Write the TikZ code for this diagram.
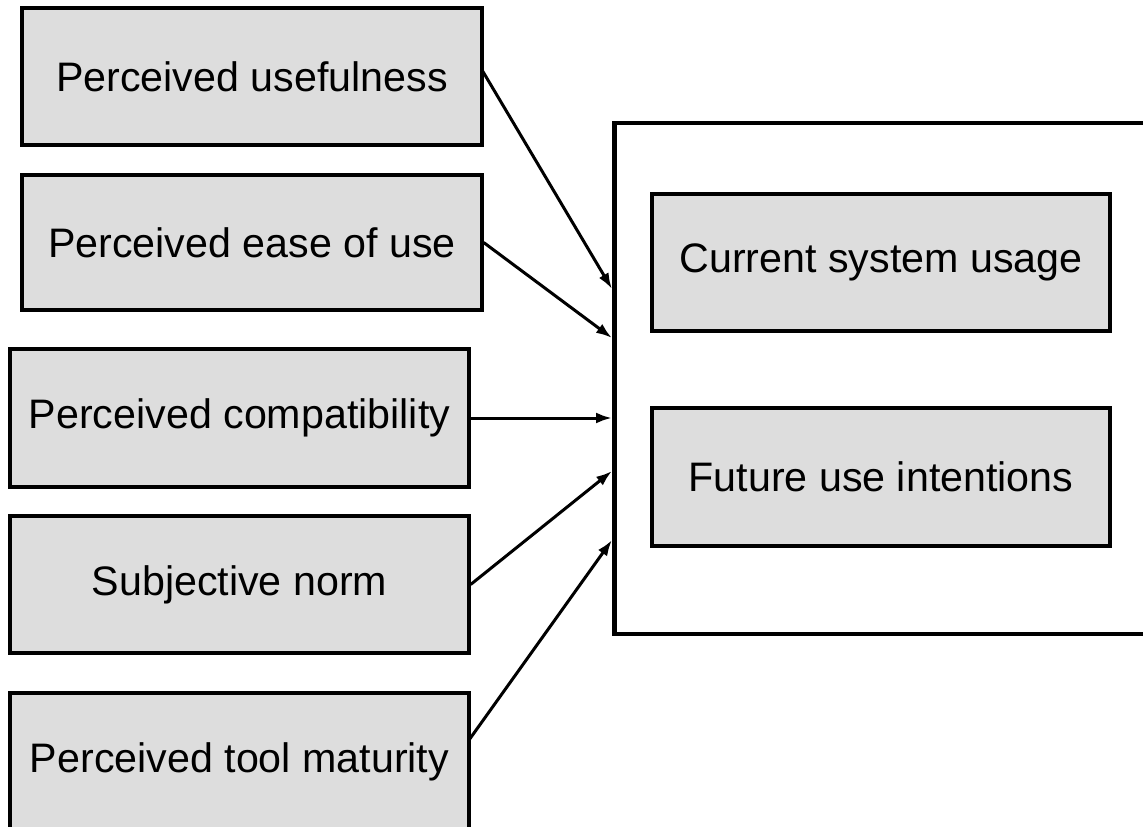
\documentclass[tikz,border=0pt]{standalone}
\usepackage{fontspec}
\setmainfont{Liberation Sans}
\usetikzlibrary{arrows.meta}
\definecolor{boxfill}{HTML}{DDDDDD}
\tikzset{
  factor/.style={draw=black, line width=3.3pt, fill=boxfill, rectangle, inner sep=0pt,
    font=\fontsize{41.2}{48}\selectfont},
  outerbox/.style={draw=black, line width=4.5pt, rectangle, inner sep=0pt},
  arr/.style={line width=3pt, -{Latex[length=16pt,width=11pt]}}
}
\begin{document}
\begin{tikzpicture}[x=1pt,y=-1pt]
\useasboundingbox (0,0) rectangle (1143,827);
\clip (0,0) rectangle (1143,827);
\fill[white] (0,0) rectangle (1143,827);
% outer box
\node[outerbox, minimum width=560pt, minimum height=511pt] (outer) at (894.25,378.5) {};
% left factors
\node[factor, minimum width=460pt, minimum height=137pt] (b1) at (252,76.5) {Perceived usefulness};
\node[factor, minimum width=460pt, minimum height=135pt] (b2) at (252,242.5) {Perceived ease of use};
\node[factor, minimum width=459pt, minimum height=138pt] (b3) at (239.5,418) {Perceived compatibility};
\node[factor, minimum width=459pt, minimum height=137pt] (b4) at (239.5,584.5) {Subjective norm};
\node[factor, minimum width=459pt, minimum height=138pt] (b5) at (239.5,762) {Perceived tool maturity};
% inner boxes
\node[factor, minimum width=458pt, minimum height=137pt] (c1) at (881,262.5) {Current system usage};
\node[factor, minimum width=458pt, minimum height=138pt] (c2) at (881,477) {Future use intentions};
% arrow targets on the outer box edge
\coordinate (t1) at (612,289);
\coordinate (t2) at (612,338);
\coordinate (t3) at (612,418);
\coordinate (t4) at (612,471);
\coordinate (t5) at (612,540);
\coordinate (s1) at (482,70);
\coordinate (s5) at (469,740);
\draw[arr] (s1) -- (t1);
\draw[arr] (b2.east) -- (t2);
\draw[arr] (b3.east) -- (t3);
\draw[arr] (b4.east) -- (t4);
\draw[arr] (s5) -- (t5);
\end{tikzpicture}
\end{document}
